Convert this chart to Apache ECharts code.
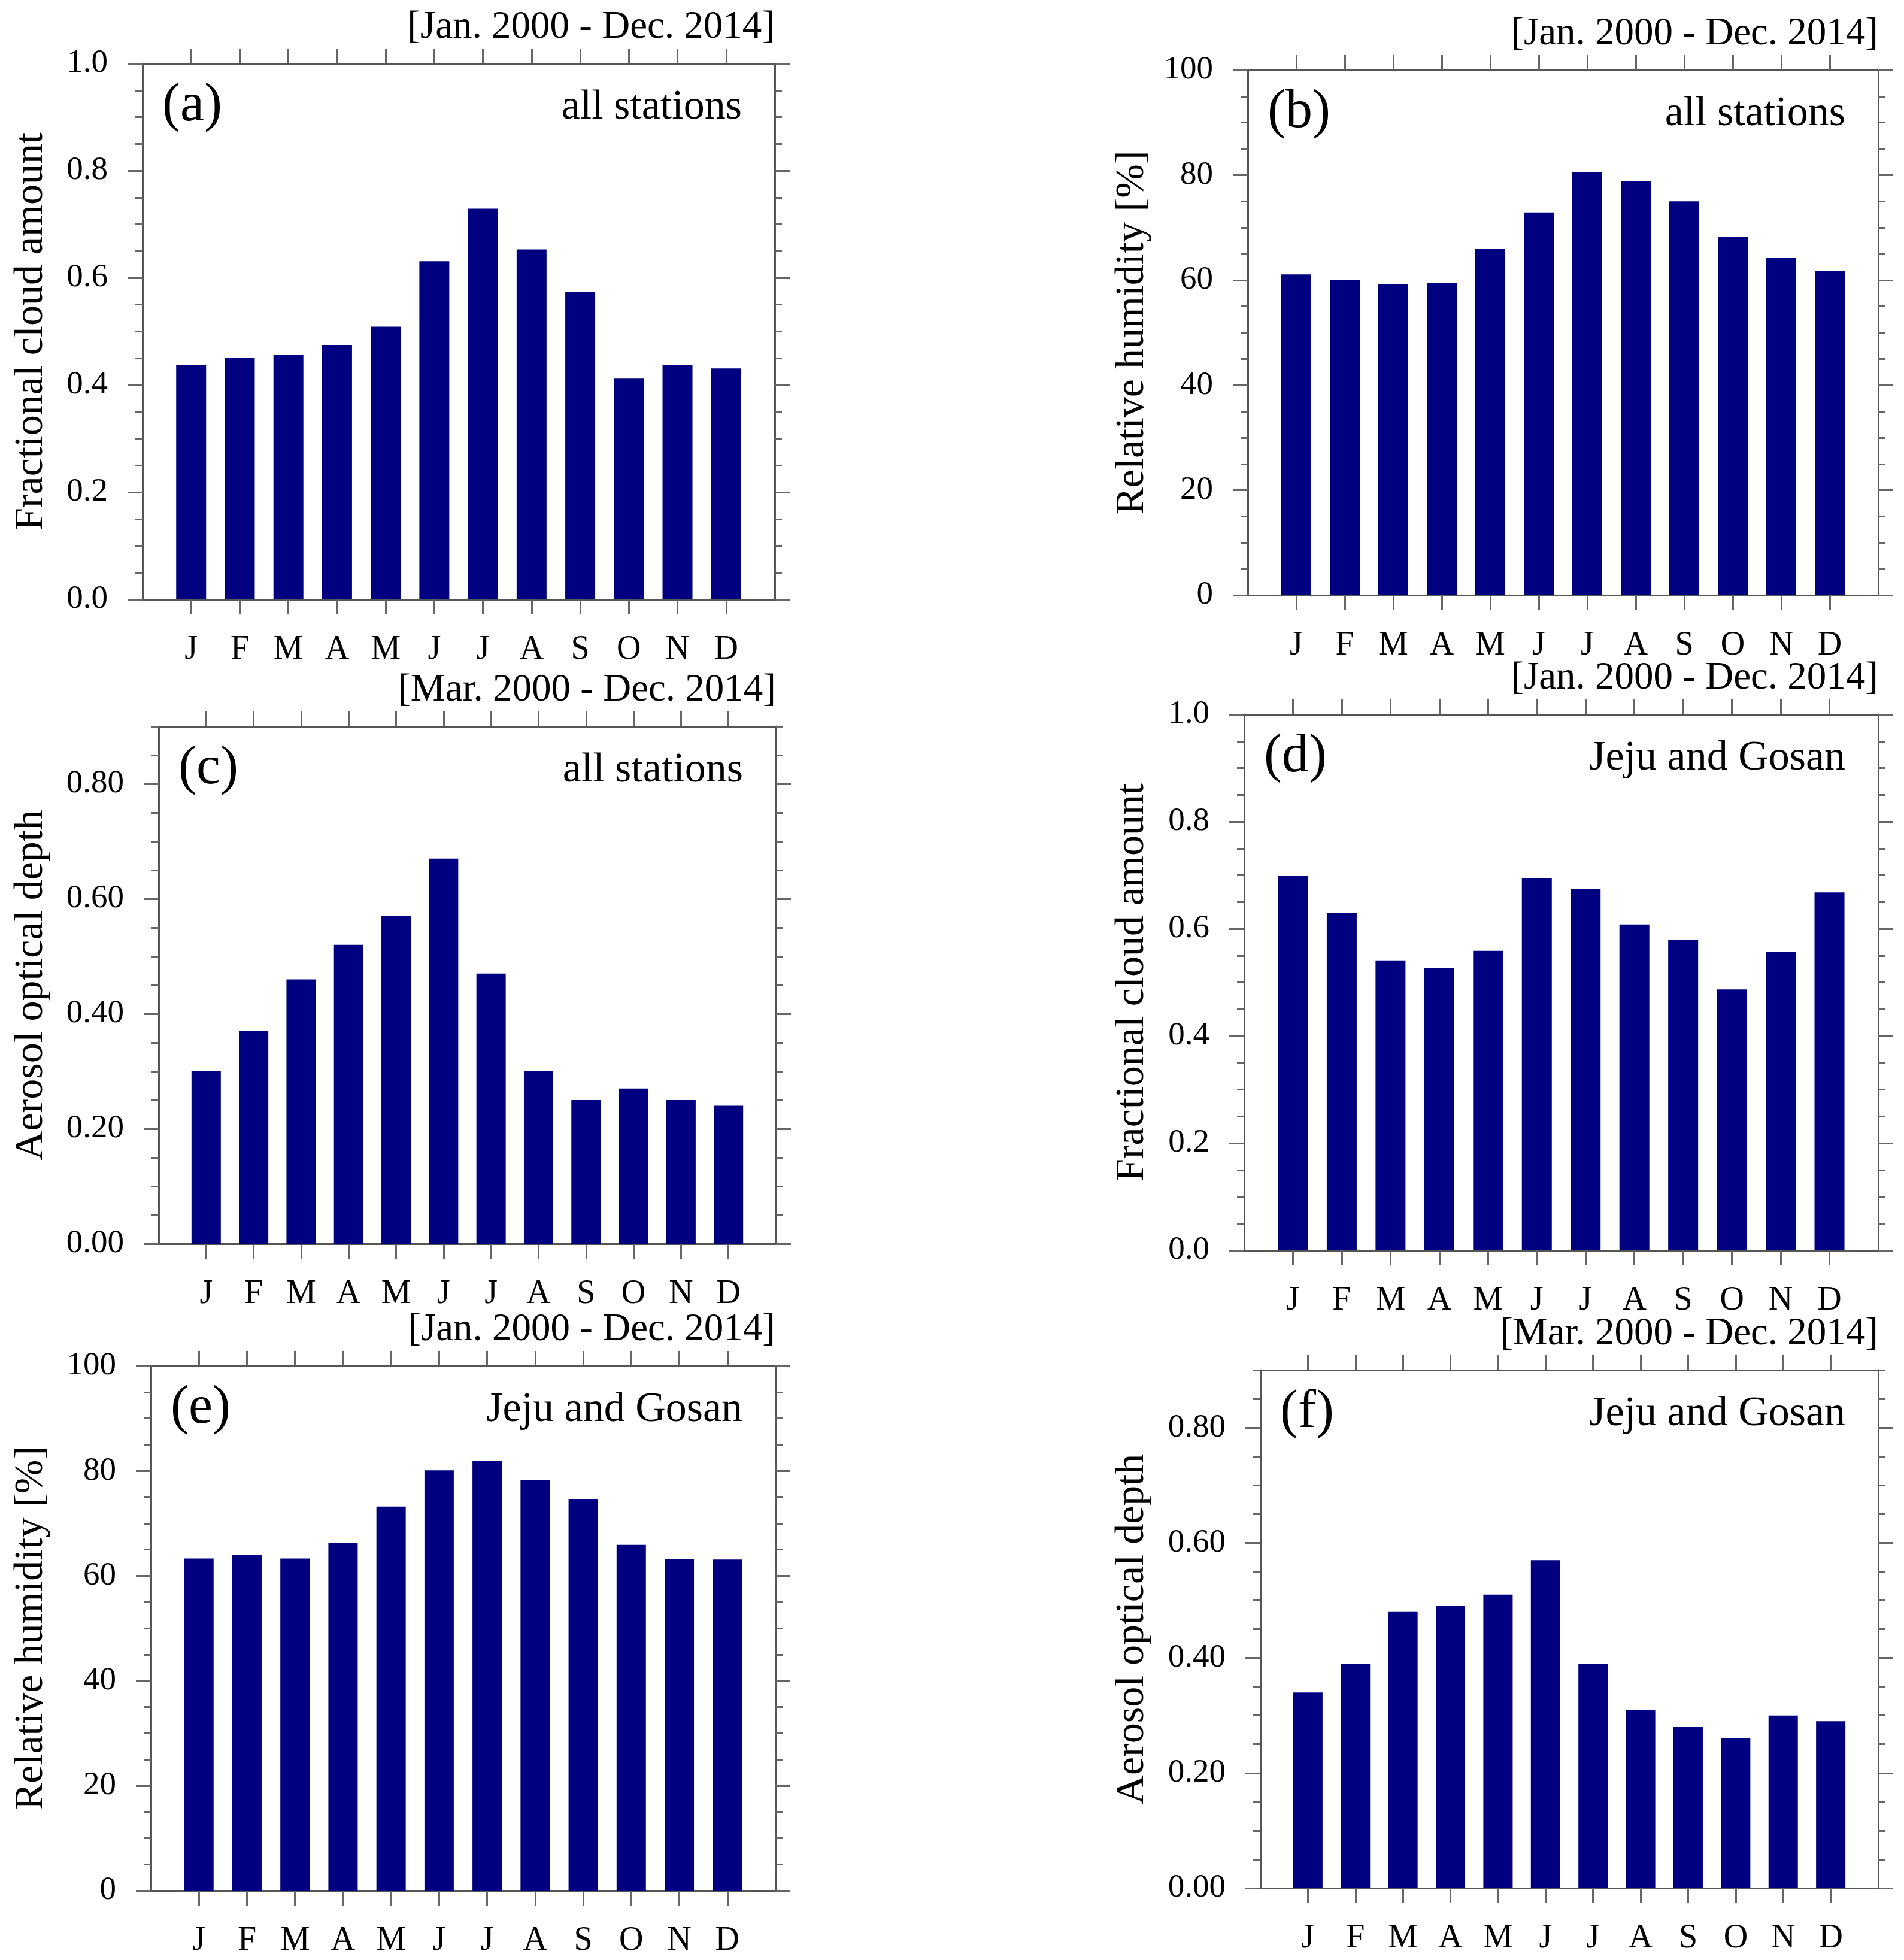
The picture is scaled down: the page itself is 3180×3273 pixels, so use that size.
<!DOCTYPE html>
<html>
<head>
<meta charset="utf-8">
<script src="https://cdn.jsdelivr.net/npm/echarts@6/dist/echarts.min.js"></script>
<style>
html,body{margin:0;padding:0;background:#fff;}
#chart{width:3180px;height:3273px;}
</style>
</head>
<body>
<div id="chart"></div>
<script>
// ---------- data ----------
const months = ['J','F','M','A','M','J','J','A','S','O','N','D'];

const cloudAll  = [0.438, 0.451, 0.456, 0.475, 0.509, 0.631, 0.729, 0.653, 0.574, 0.412, 0.437, 0.431];
const rhAll     = [61.1, 60.0, 59.2, 59.4, 65.9, 72.9, 80.5, 78.9, 75.0, 68.3, 64.3, 61.8];
const aodAll    = [0.30, 0.37, 0.46, 0.52, 0.57, 0.67, 0.47, 0.30, 0.25, 0.27, 0.25, 0.24];
const cloudJeju = [0.699, 0.630, 0.541, 0.527, 0.559, 0.694, 0.674, 0.608, 0.580, 0.487, 0.557, 0.668];
const rhJeju    = [63.3, 64.0, 63.3, 66.2, 73.2, 80.1, 81.9, 78.3, 74.6, 65.9, 63.2, 63.1];
const aodJeju   = [0.34, 0.39, 0.48, 0.49, 0.51, 0.57, 0.39, 0.31, 0.28, 0.26, 0.30, 0.29];

const cloudTicks = [0, 0.2, 0.4, 0.6, 0.8, 1.0];
const rhTicks    = [0, 20, 40, 60, 80, 100];
const aodTicks   = [0, 0.2, 0.4, 0.6, 0.8];

const periodJan = '[Jan. 2000 - Dec. 2014]';
const periodMar = '[Mar. 2000 - Dec. 2014]';

// ---------- layout ----------
const FONT = '"Liberation Serif", "Times New Roman", serif';
const AXIS_COLOR = '#555';
const TICK_COLOR = '#666';
const BAR_COLOR = '#000080';
const TEXT_COLOR = '#000';

const panels = [
  {label:'(a)', box:[238,106,1294,1001], data:cloudAll, ticks:cloudTicks, max:1.0, minor:0.05, dec:1,
   ytitle:'Fractional cloud amount', period:periodJan, station:'all stations', tx:52},
  {label:'(b)', box:[2084,117,3137,994], data:rhAll, ticks:rhTicks, max:100, minor:5, dec:0,
   ytitle:'Relative humidity [%]', period:periodJan, station:'all stations', tx:1891},
  {label:'(c)', box:[265,1213,1296,2077], data:aodAll, ticks:aodTicks, max:0.9, minor:0.05, dec:2,
   ytitle:'Aerosol optical depth', period:periodMar, station:'all stations', tx:52},
  {label:'(d)', box:[2078,1193,3137,2088], data:cloudJeju, ticks:cloudTicks, max:1.0, minor:0.05, dec:1,
   ytitle:'Fractional cloud amount', period:periodJan, station:'Jeju and Gosan', tx:1891},
  {label:'(e)', box:[252,2281,1295,3157], data:rhJeju, ticks:rhTicks, max:100, minor:5, dec:0,
   ytitle:'Relative humidity [%]', period:periodJan, station:'Jeju and Gosan', tx:52},
  {label:'(f)', box:[2105,2288,3137,3153], data:aodJeju, ticks:aodTicks, max:0.9, minor:0.05, dec:2,
   ytitle:'Aerosol optical depth', period:periodMar, station:'Jeju and Gosan', tx:1891}
];

const positions = months.map((m, i) => i + 1);

const grid = [], xAxis = [], yAxis = [], series = [], graphic = [];

panels.forEach((p, gi) => {
  const [l, t, r, b] = p.box;
  const w = r - l, h = b - t;
  grid.push({left:l, top:t, width:w, height:h, containLabel:false, show:false});

  const xBase = {
    gridIndex: gi, type:'value', min:0, max:13,
    axisLine:{show:true, onZero:false, lineStyle:{color:AXIS_COLOR, width:3}},
    axisTick:{show:true, inside:false, length:25, customValues:positions, lineStyle:{color:TICK_COLOR, width:3}},
    splitLine:{show:false}
  };
  const xb = xAxis.length;
  xAxis.push(Object.assign({}, xBase, {
    position:'bottom',
    axisLabel:{show:true, customValues:positions, margin:56, fontFamily:FONT, fontSize:56, color:TEXT_COLOR,
      formatter: v => months[Math.round(v) - 1] || ''}
  }));
  xAxis.push(Object.assign({}, xBase, {position:'top', axisLabel:{show:false}}));

  const yMajor = side => ({
    gridIndex: gi, type:'value', min:0, max:p.max, position:side,
    axisLine:{show:true, onZero:false, lineStyle:{color:AXIS_COLOR, width:3}},
    axisTick:{show:true, inside:false, length:25, customValues:p.ticks, lineStyle:{color:TICK_COLOR, width:3}},
    axisLabel: side === 'left'
      ? {show:true, customValues:p.ticks, margin:58, fontFamily:FONT, fontSize:55, color:TEXT_COLOR,
         formatter: v => v.toFixed(p.dec)}
      : {show:false},
    splitLine:{show:false}
  });
  const yMinor = side => ({
    gridIndex: gi, type:'value', min:0, max:p.max, interval:p.minor, position:side,
    axisLine:{show:false, onZero:false},
    axisTick:{show:true, inside:false, length:12, lineStyle:{color:TICK_COLOR, width:3}},
    axisLabel:{show:false},
    splitLine:{show:false}
  });
  const yl = yAxis.length;
  yAxis.push(yMajor('left'));
  yAxis.push(yMinor('left'));
  yAxis.push(yMajor('right'));
  yAxis.push(yMinor('right'));

  series.push({
    type:'bar', xAxisIndex:xb, yAxisIndex:yl,
    data: p.data.map((v, i) => [positions[i], v]),
    barWidth: Math.round(0.615 * w / 13),
    itemStyle:{color:BAR_COLOR},
    silent:true
  });

  graphic.push({type:'text', x:r, y:t - 60, silent:true,
    style:{text:p.period, fontFamily:FONT, fontSize:65, fill:TEXT_COLOR, align:'right', verticalAlign:'middle'}});
  graphic.push({type:'text', x:l + 33, y:t + 71, silent:true,
    style:{text:p.label, fontFamily:FONT, fontSize:90, fill:TEXT_COLOR, align:'left', verticalAlign:'middle'}});
  graphic.push({type:'text', x:r - 55, y:t + 74, silent:true,
    style:{text:p.station, fontFamily:FONT, fontSize:70, fill:TEXT_COLOR, align:'right', verticalAlign:'middle'}});
  graphic.push({type:'text', x:p.tx, y:(t + b) / 2, rotation:Math.PI / 2, silent:true,
    style:{text:p.ytitle, fontFamily:FONT, fontSize:68, fill:TEXT_COLOR, align:'center', verticalAlign:'middle'}});
});

const chart = echarts.init(document.getElementById('chart'), null, {renderer:'canvas'});
chart.setOption({
  animation:false,
  backgroundColor:'#fff',
  grid, xAxis, yAxis, series, graphic
});
</script>
</body>
</html>
